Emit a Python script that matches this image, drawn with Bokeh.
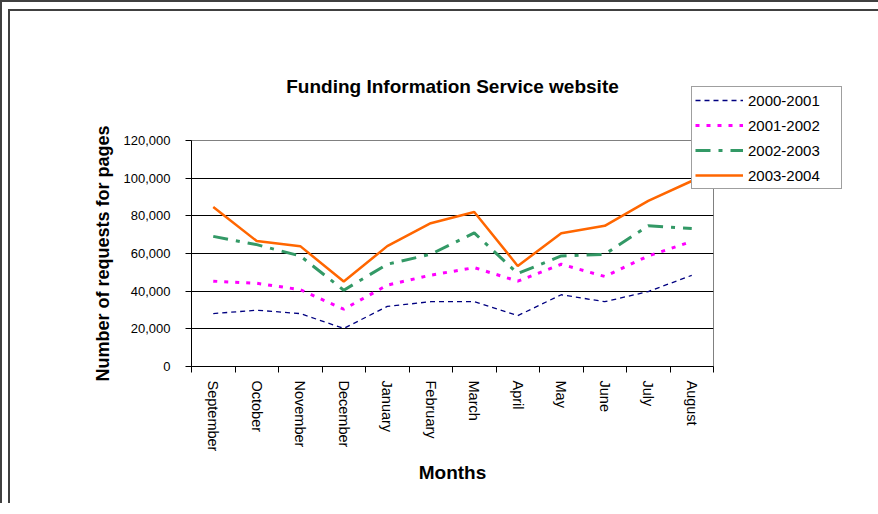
from bokeh.plotting import figure
from bokeh.layouts import column
from bokeh.models import (Range1d, LinearAxis, FixedTicker, NumeralTickFormatter, Legend)
from bokeh.embed import file_html
from bokeh.resources import INLINE

months = ["September", "October", "November", "December", "January", "February",
          "March", "April", "May", "June", "July", "August"]
y2000_2001 = [28100, 29900, 28100, 20200, 31900, 34400, 34400, 27000, 38100, 34400, 39800, 48400]
y2001_2002 = [45300, 44200, 40800, 30400, 43200, 48500, 52500, 45300, 54300, 47800, 58700, 66400]
y2002_2003 = [69100, 64700, 58700, 40500, 54300, 59600, 70900, 49400, 58700, 59600, 74700, 73300]
y2003_2004 = [84700, 66600, 63900, 45100, 63900, 76100, 82000, 53400, 70700, 74700, 87900, 98500]
y_ticks = [0, 20000, 40000, 60000, 80000, 100000, 120000]

series = [
    ("2000-2001", y2000_2001, "#000080", 1.3, "5 4"),
    ("2001-2002", y2001_2002, "#FF00FF", 3, "4 7"),
    ("2002-2003", y2002_2003, "#339966", 3, "15 8 4 8"),
    ("2003-2004", y2003_2004, "#FF6600", 2.5, "solid"),
]

FONT = "Liberation Sans"

n = len(months)
centers = [i + 0.5 for i in range(n)]     # category centres on the axis scale
bounds = list(range(n + 1))               # category boundaries (tick marks)

p = figure(x_range=Range1d(0, n), y_range=Range1d(0, 120000),
           frame_width=520, frame_height=224, output_backend="svg", toolbar_location=None,
           x_axis_location=None,
           min_border_left=181, min_border_right=140, min_border_top=129, min_border_bottom=139,
           title="Funding Information Service website")

p.title.text_font = FONT
p.title.text_font_size = "19px"
p.title.text_font_style = "bold"
p.title.align = "center"
p.title.standoff = 88
p.title.text_color = "black"

p.outline_line_color = "#808080"
p.outline_line_width = 1
p.background_fill_color = "white"
p.border_fill_color = "white"

# y axis
ya = p.yaxis[0]
ya.ticker = FixedTicker(ticks=y_ticks)
ya.formatter = NumeralTickFormatter(format="0,0")
ya.major_tick_in = 0
ya.major_tick_out = 6
ya.minor_tick_line_color = None
ya.axis_line_color = "black"
ya.major_tick_line_color = "black"
ya.major_label_text_font = FONT
ya.major_label_text_font_size = "13px"
ya.major_label_text_color = "black"
ya.major_label_standoff = 15
ya.axis_label = "Number of requests for pages"
ya.axis_label_text_font = FONT
ya.axis_label_text_font_size = "18px"
ya.axis_label_text_font_style = "bold"
ya.axis_label_text_color = "black"
ya.axis_label_standoff = 8

p.ygrid.ticker = FixedTicker(ticks=y_ticks[1:-1])
p.ygrid.grid_line_color = "black"
p.ygrid.grid_line_width = 1
p.xgrid.grid_line_color = None

# month axis: labels at category centres, tick marks at category boundaries
cat_axis = LinearAxis(ticker=FixedTicker(ticks=centers, minor_ticks=bounds),
                      major_label_overrides={c: m for c, m in zip(centers, months)},
                      major_tick_line_color=None, major_tick_in=0, major_tick_out=0,
                      minor_tick_line_color="black", minor_tick_in=0, minor_tick_out=6,
                      axis_line_color="black", major_label_orientation="vertical",
                      major_label_standoff=8,
                      major_label_text_font=FONT, major_label_text_font_size="14.5px",
                      major_label_text_color="black",
                      axis_label="Months", axis_label_text_font=FONT,
                      axis_label_text_font_size="19px", axis_label_text_font_style="bold",
                      axis_label_text_color="black", axis_label_standoff=8)
p.add_layout(cat_axis, "below")

items = []
for name, vals, color, width, dash in series:
    r = p.line(centers, vals, line_color=color, line_width=width, line_dash=dash)
    items.append((name, [r]))

lg = Legend(items=items, location=(-22, 177))
lg.border_line_color = "#404040"
lg.border_line_width = 1
lg.background_fill_color = "white"
lg.background_fill_alpha = 1
lg.padding = 3
lg.spacing = 5
lg.margin = 0
lg.glyph_width = 48
lg.glyph_height = 20
lg.label_height = 20
lg.label_width = 90
lg.label_standoff = 5
lg.label_text_font = FONT
lg.label_text_font_size = "15px"
lg.label_text_color = "black"
p.add_layout(lg, "right")

p.margin = (7, 0, 0, 6)
p.styles = {"border-top": "2px solid #404040", "border-left": "2px solid #404040"}

root = column(p, styles={"border-top": "2px solid #404040", "border-left": "2px solid #404040"})

open("out.html", "w").write(file_html(root, INLINE))
